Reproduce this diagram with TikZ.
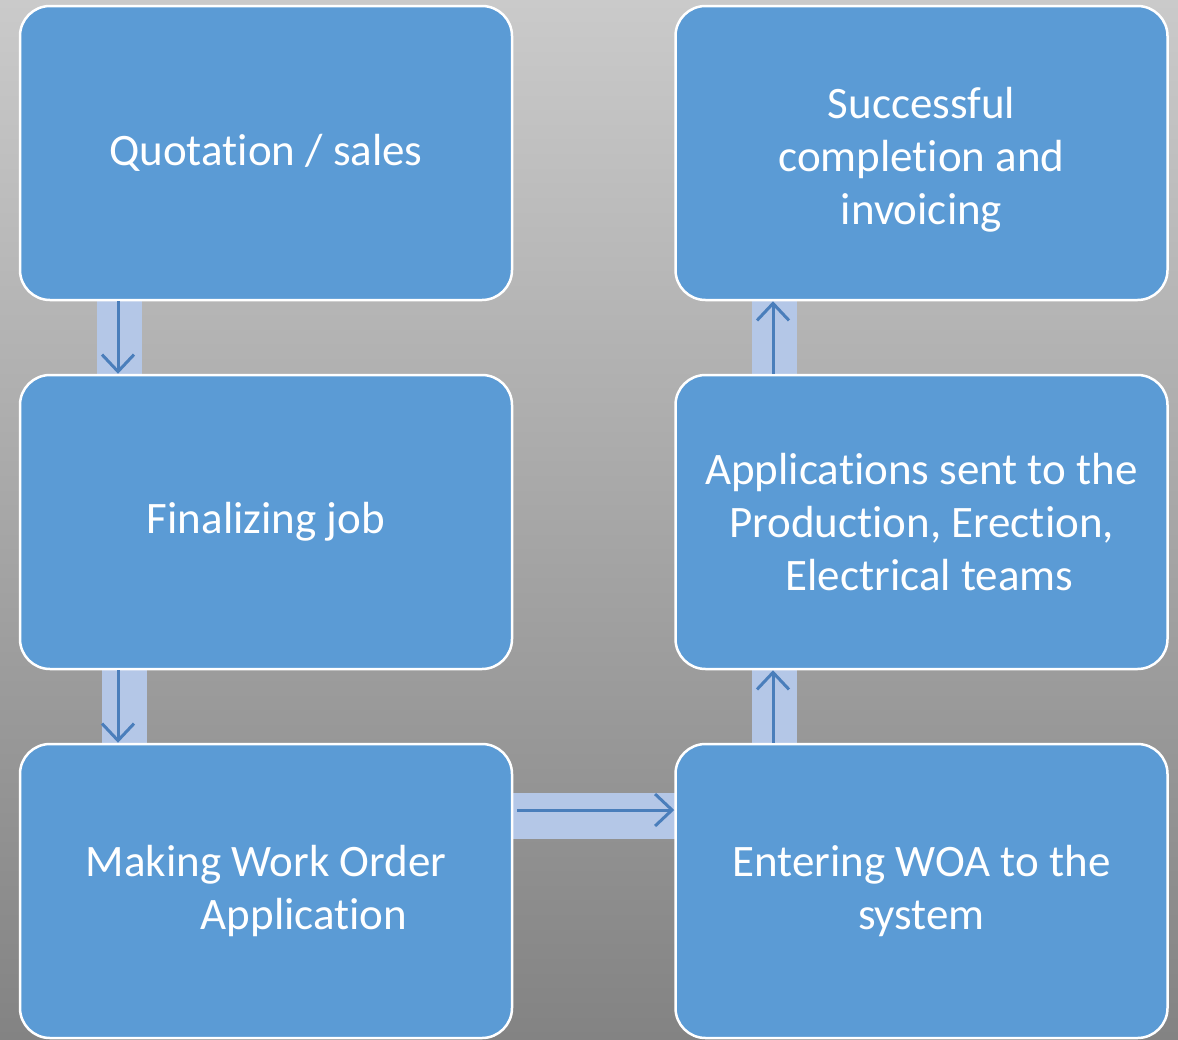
\documentclass[tikz,border=0pt]{standalone}
\usepackage{fontspec}
\setmainfont{Carlito}[Ligatures=NoCommon]
\usepackage{xcolor}
\usepackage{tikz}
\usetikzlibrary{arrows.meta}

\definecolor{boxblue}{HTML}{5B9BD5}
\definecolor{barblue}{HTML}{B4C7E7}
\definecolor{arrblue}{HTML}{4A7EBB}
\definecolor{bgtop}{HTML}{CACACA}
\definecolor{bgbot}{HTML}{838383}

\tikzset{
	stage/.style={fill=boxblue, draw=white, line width=2.5pt, rounded corners=30pt,
		minimum width=492pt, minimum height=294pt, inner sep=0pt, align=center,
		text=white, font=\fontsize{45}{53}\selectfont},
	bar/.style={fill=barblue},
	flow/.style={draw=arrblue, line width=3pt, -{Straight Barb[length=17pt,width=32pt,line width=3pt]}}
}

\begin{document}
\begin{tikzpicture}[x=1pt,y=-1pt]
	% background
	\shade[top color=bgtop, bottom color=bgbot] (0,0) rectangle (1178,1039);
	\useasboundingbox (0,0) rectangle (1178,1039);
	% wide bars behind the arrows
	\fill[bar] (97,290) rectangle (142,385);
	\fill[bar] (102,660) rectangle (147,754);
	\fill[bar] (500,793) rectangle (686,839);
	\fill[bar] (752,660) rectangle (797,754);
	\fill[bar] (752,290) rectangle (797,385);
	% stages
	\foreach \n/\x/\y/\t in {
		quote/266/153/{Quotation / sales},
		final/266/522/{Finalizing job},
		woa/266/891/{Making Work Order\\\hspace*{76pt}Application},
		enter/921.5/891/{Entering WOA to the\\system},
		teams/921.5/522/{Applications sent to the\\Production, Erection,\\\hspace*{16pt}Electrical teams},
		done/921.5/153/{\rule{0pt}{44pt}Successful\\completion and\\invoicing}}
	{
		\node[stage] (\n) at (\x,\y) {\t};
	}
	% arrows
	\draw[flow] ([xshift=-148pt]quote.south) -- ([xshift=-148pt]final.north);
	\draw[flow] ([xshift=-148pt]final.south) -- ([xshift=-148pt]woa.north);
	\draw[flow] ([yshift=81pt,xshift=4pt]woa.east) -- ([yshift=81pt]enter.west);
	\draw[flow] ([xshift=-148.5pt]enter.north) -- ([xshift=-148.5pt]teams.south);
	\draw[flow] ([xshift=-148.5pt]teams.north) -- ([xshift=-148.5pt]done.south);
\end{tikzpicture}
\end{document}
